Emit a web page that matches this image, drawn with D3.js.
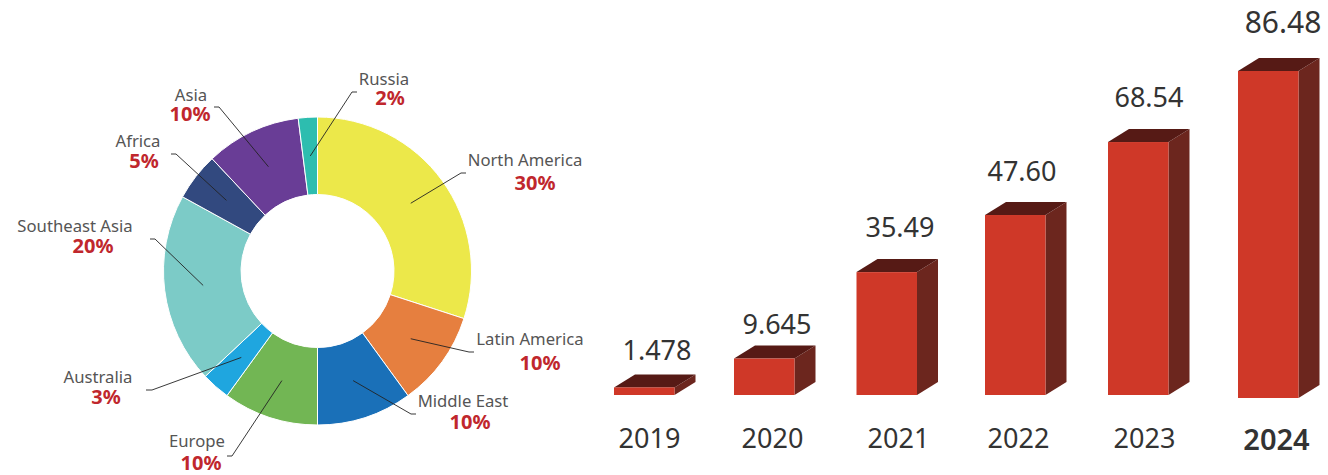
<!DOCTYPE html>
<html>
<head>
<meta charset="utf-8">
<script src="https://cdn.jsdelivr.net/npm/d3@7"></script>
<style>
    html, body { margin: 0; padding: 0; background: #fff; }
    svg { display: block; }
    text { font-family: "Noto Sans", sans-serif; }
</style>
</head>
<body>
<div id="demo"></div>
<script>
// regional split
const regions = ["North America", "Latin America", "Middle East", "Europe", "Australia", "Southeast Asia", "Africa", "Asia", "Russia"];
const shares = [30, 10, 10, 10, 3, 20, 5, 10, 2];
const sliceColors = ["#ece84a", "#e67f3f", "#1a70b8", "#72b654", "#1fa6df", "#7ccbc7", "#32497f", "#693d96", "#2dbdaf"];

// yearly bars
const years = ["2019", "2020", "2021", "2022", "2023", "2024"];
const valueLabels = ["1.478", "9.645", "35.49", "47.60", "68.54", "86.48"];
const barValues = [2.0, 9.645, 32.5, 47.6, 66.9, 86.48]; // heights

let w = 1328;
let h = 475;

let svg = d3.select("#demo")
    .append("svg")
    .attr("width", w)
    .attr("height", h);

// ---- donut ----
let cx = 317.5, cy = 271, rOuter = 154, rInner = 76.5;

let arc = d3.arc().innerRadius(rInner).outerRadius(rOuter);
let pie = d3.pie().sort(null).value((d) => d);
let slices = pie(shares);

let donut = svg.append("g").attr("transform", "translate(" + cx + "," + cy + ")");

donut.selectAll("path")
    .data(slices)
    .enter()
    .append("path")
    .attr("d", arc)
    .attr("fill", (d, i) => sliceColors[i])
    .attr("stroke", "#fff")
    .attr("stroke-width", 1);

// leader end points and text anchors, same order as regions
let labelLayout = [
    {ex: 461, ey: 173, tail: 5, nx: 525, ny: 166, px: 535, py: 190},
    {ex: 469, ey: 352, tail: 5, nx: 530, ny: 345, px: 540, py: 370},
    {ex: 411, ey: 414, tail: 5, nx: 463, ny: 407, px: 470, py: 429},
    {ex: 232, ey: 456, tail: -5, nx: 197, ny: 447, px: 201, py: 470},
    {ex: 152, ey: 390, tail: -6, nx: 98, ny: 383, px: 106, py: 404},
    {ex: 155, ey: 239, tail: -5, nx: 75, ny: 232, px: 93, py: 253},
    {ex: 176, ey: 154, tail: -5, nx: 138, ny: 147, px: 144, py: 168},
    {ex: 219, ey: 107, tail: -5, nx: 191, ny: 101, px: 190, py: 121},
    {ex: 352, ey: 92, tail: 5, nx: 384, ny: 85, px: 390, py: 105}
];

let line = d3.line();

svg.append("g").selectAll("path")
    .data(slices)
    .enter()
    .append("path")
    .attr("d", (d, i) => {
        let c = arc.centroid(d);
        let l = labelLayout[i];
        return line([[cx + c[0], cy + c[1]], [l.ex, l.ey], [l.ex + l.tail, l.ey]]);
    })
    .attr("fill", "none")
    .attr("stroke", "#222")
    .attr("stroke-width", 0.9);

svg.append("g").selectAll("text")
    .data(regions)
    .enter()
    .append("text")
    .attr("x", (d, i) => labelLayout[i].nx)
    .attr("y", (d, i) => labelLayout[i].ny)
    .attr("text-anchor", "middle")
    .attr("font-size", 16.7)
    .attr("fill", "#555")
    .text((d) => d);

svg.append("g").selectAll("text")
    .data(shares)
    .enter()
    .append("text")
    .attr("x", (d, i) => labelLayout[i].px)
    .attr("y", (d, i) => labelLayout[i].py)
    .attr("text-anchor", "middle")
    .attr("font-size", 20)
    .attr("font-weight", 700)
    .attr("fill", "#c0272d")
    .text((d) => d + "%");

// ---- 3d bars ----
let barW = 60.5, depthX = 21, depthY = 13, baseline = 395;

let x = d3.scaleOrdinal().domain(years).range([614, 734, 856.5, 985, 1108, 1238]);
let yearX = d3.scaleOrdinal().domain(years).range([649, 772, 898, 1018, 1144, 1276]);
let valueX = d3.scaleOrdinal().domain(years).range([657, 777, 900, 1022, 1149, 1283]);
let barH = d3.scaleLinear().domain([0, 86.48]).range([0, 327]);

// the last bar sits a little lower than the others in the original
let baseOf = (i) => i === years.length - 1 ? baseline + 3 : baseline;
let valueGap = [14, 12, 22, 21, 22, 25];

let bars = svg.append("g").selectAll("g")
    .data(barValues)
    .enter()
    .append("g");

bars.append("path")
    .attr("fill", "#6c261e")
    .attr("d", (d, i) => {
        let x1 = x(years[i]) + barW, b = baseOf(i), t = b - barH(d);
        return line([[x1, b], [x1, t], [x1 + depthX, t - depthY], [x1 + depthX, b - depthY]]) + "Z";
    });

bars.append("path")
    .attr("fill", "#561a15")
    .attr("d", (d, i) => {
        let x0 = x(years[i]), t = baseOf(i) - barH(d);
        return line([[x0, t], [x0 + barW, t], [x0 + barW + depthX, t - depthY], [x0 + depthX, t - depthY]]) + "Z";
    });

bars.append("rect")
    .attr("x", (d, i) => x(years[i]))
    .attr("y", (d, i) => baseOf(i) - barH(d))
    .attr("width", barW)
    .attr("height", (d) => barH(d))
    .attr("fill", "#cf3828");

bars.append("text")
    .attr("x", (d, i) => valueX(years[i]))
    .attr("y", (d, i) => baseOf(i) - barH(d) - depthY - valueGap[i])
    .attr("text-anchor", "middle")
    .attr("font-size", (d, i) => i === years.length - 1 ? 30 : 27)
    .attr("fill", "#333")
    .text((d, i) => valueLabels[i]);

// year labels
let axis = svg.append("g")
    .attr("transform", "translate(0,428)")
    .call(d3.axisBottom(yearX).tickSize(0));

axis.select(".domain").remove();
axis.selectAll("text")
    .attr("y", 0)
    .attr("dy", "20")
    .attr("font-family", "'Noto Sans', sans-serif")
    .attr("font-size", 27)
    .attr("fill", "#333");

axis.selectAll("text")
    .filter((d) => d === "2024")
    .attr("dy", "22")
    .attr("font-size", 29)
    .attr("font-weight", 600);
</script>
</body>
</html>
